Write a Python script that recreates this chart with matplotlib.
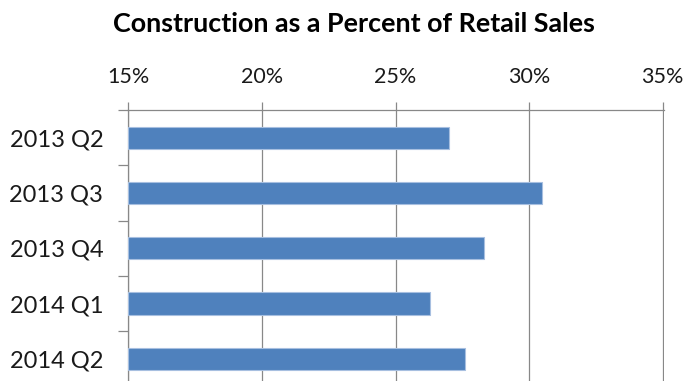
import matplotlib
matplotlib.use("Agg")
import matplotlib.pyplot as plt
from matplotlib.ticker import FixedLocator

# Data
quarters = ["2013 Q2", "2013 Q3", "2013 Q4", "2014 Q1", "2014 Q2"]
pct_values = [27.0, 30.5, 28.3, 26.3, 27.6]
x_ticks = [15, 20, 25, 30, 35]
x_tick_labels = ["15%", "20%", "25%", "30%", "35%"]
title = "Construction as a Percent of Retail Sales"

plt.rcParams["font.family"] = ["Lato", "DejaVu Sans"]

BAR = "#4F81BD"
EDGE = "#A7BFE0"
GRID = "#888888"
TXT = "#1a1a1a"

fig = plt.figure(figsize=(6.88, 3.81), dpi=100)
ax = fig.add_axes([128.3 / 688, 1 - 386.5 / 381, 535.5 / 688, 276.5 / 381])

y = list(range(len(quarters)))
ax.barh(y, [v - 15 for v in pct_values], left=15, height=0.4,
        color=BAR, edgecolor=EDGE, linewidth=0.8, zorder=3)

# small margin on the right so the last gridline is not clipped
ax.set_xlim(15, 35.04)
ax.set_ylim(len(quarters) - 0.5, -0.5)

# x axis on top with percent labels
ax.xaxis.set_ticks_position("top")
ax.xaxis.set_label_position("top")
ax.set_xticks(x_ticks)
ax.set_xticklabels(x_tick_labels)
ax.tick_params(axis="x", which="major", length=5.5, width=0.9, color=GRID,
               labelsize=15.5, labelcolor=TXT, pad=11)
ax.grid(axis="x", color=GRID, linewidth=0.9, zorder=1)

# category labels centred on bars, tick marks between categories
ax.set_yticks(y)
ax.set_yticklabels(quarters)
ax.tick_params(axis="y", which="major", length=0, labelsize=17,
               labelcolor=TXT, pad=18)
ax.yaxis.set_minor_locator(FixedLocator([i - 0.5 for i in range(len(quarters) + 1)]))
ax.tick_params(axis="y", which="minor", length=7, width=0.9, color=GRID, left=True)

for side in ("right", "bottom"):
    ax.spines[side].set_visible(False)
for side in ("top", "left"):
    ax.spines[side].set_color(GRID)
    ax.spines[side].set_linewidth(0.9)

fig.text(354.2 / 688, 1 - 32 / 381, title, ha="center", va="baseline",
         fontsize=19.4, fontweight="bold", color="#000000")

fig.savefig("out.png", dpi=100)
